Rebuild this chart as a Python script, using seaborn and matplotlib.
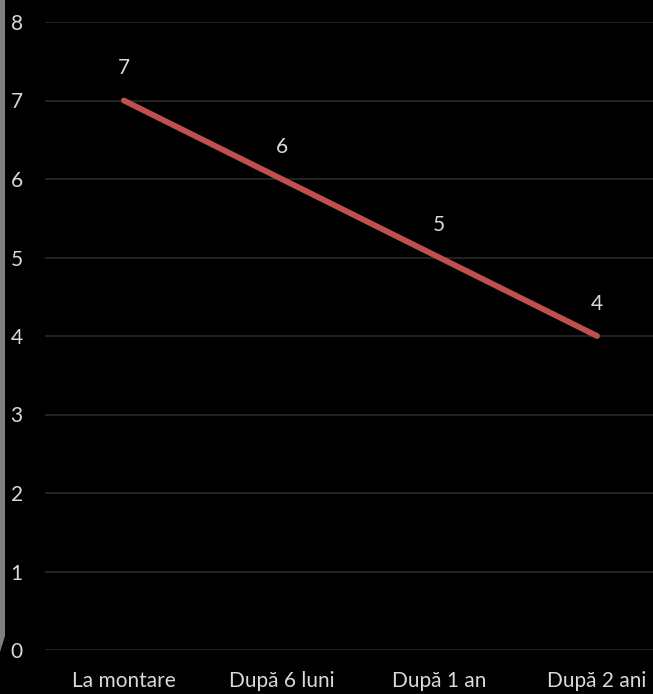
import numpy as np
import pandas as pd
import matplotlib.pyplot as plt
import seaborn as sns
from matplotlib.patches import Polygon

categories = ['La montare', 'După 6 luni', 'După 1 an', 'După 2 ani']
values = [7, 6, 5, 4]
yticks = [0, 1, 2, 3, 4, 5, 6, 7, 8]

df = pd.DataFrame({'etapa': categories, 'valoare': values})

sns.set_style('dark')
plt.rcParams['font.family'] = ['Lato', 'DejaVu Sans']

W, H = 653, 694
fig = plt.figure(figsize=(W / 100, H / 100), dpi=100, facecolor='black')
# axes: left 45px, right edge cut at 653px, top at y=8 (22px), bottom at y=0 (650px)
ax = fig.add_axes([45 / W, 1 - 650 / H, (W - 45) / W, (650 - 22) / H])
ax.set_facecolor('black')

txt = '#d9d9d9'
grid = '#262626'
fs = 15

for y in yticks:
    ax.axhline(y, color=grid, lw=1.3, zorder=0)

sns.lineplot(data=df, x='etapa', y='valoare', ax=ax, color='#c0504d',
             lw=4.2, sort=False, zorder=3, solid_capstyle='round')

for i, v in enumerate(values):
    ax.annotate(str(v), (i, v), xytext=(0, 16), textcoords='offset points',
                ha='center', va='bottom', color=txt, fontsize=fs)

ax.set_ylim(0, 8)
ax.set_xlim(-0.5, 3.5 - 23 / 158)
ax.set_yticks(yticks)
ax.set_yticklabels([str(t) for t in yticks], color=txt, fontsize=fs)
ax.set_xticks(range(len(categories)))
ax.set_xticklabels(categories, color=txt, fontsize=fs)
ax.tick_params(axis='both', length=0)
ax.tick_params(axis='y', pad=16)
ax.tick_params(axis='x', pad=15)
ax.set_xlabel('')
ax.set_ylabel('')
ax.grid(False)
for s in ax.spines.values():
    s.set_visible(False)

# grey frame edge at the left border
pts = [(0, 0), (5, 0), (5, 636), (0, 652)]
fig.patches.append(Polygon([(x / W, 1 - y / H) for x, y in pts], closed=True,
                           transform=fig.transFigure, facecolor='#7f7f7f',
                           edgecolor='none', zorder=0))

fig.savefig('out.png', dpi=100, facecolor='black')
